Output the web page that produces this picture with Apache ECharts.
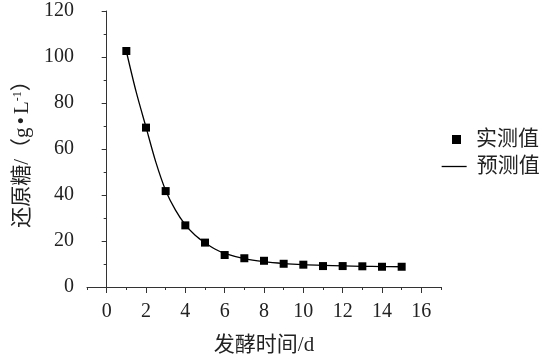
<!DOCTYPE html>
<html><head><meta charset="utf-8">
<script src="https://cdn.jsdelivr.net/npm/echarts@6/dist/echarts.min.js"></script>
<style>html,body{margin:0;padding:0;background:#fff}#c{width:542px;height:361px}</style>
</head><body><div id="c"></div>
<script>
const days = [1,1.5,2,2.5,3,3.5,4,4.5,5,5.5,6,7,8,9,10,11,12,13,14,15];
const predicted = [102.5,84.8,69.5,54.3,42.0,33.4,27.0,22.5,19.2,16.5,14.6,12.3,11.0,10.2,9.7,9.4,9.2,9.0,8.9,8.8];
const measuredDays = [1,2,3,4,5,6,7,8,9,10,11,12,13,14,15];
const measured = [102.6,69.3,41.7,26.8,19.3,13.9,12.5,11.4,10.1,9.7,9.1,9.1,9.0,8.8,8.8];
const xMajorTicks = [0,2,4,6,8,10,12,14,16];
const yTicks = [0,20,40,60,80,100,120];
const names = {measured:'实测值', predicted:'预测值', x:'发酵时间/d'};

const FONT = "'Times New Roman', 'Liberation Serif', 'Noto Sans CJK SC', serif";
const AX = '#333';
const chart = echarts.init(document.getElementById('c'));
chart.setOption({
  animation:false,
  backgroundColor:'#fff',
  grid:{left:87,right:101,top:11,bottom:74},
  xAxis:[{
    type:'value',min:-1,max:17,interval:1,
    axisLine:{lineStyle:{color:AX,width:1}},
    axisTick:{show:true,customValues:xMajorTicks,length:6,lineStyle:{color:AX}},
    axisLabel:{customValues:xMajorTicks,color:'#222',fontFamily:FONT,fontSize:20,margin:15},
    splitLine:{show:false},
    name:names.x,nameLocation:'middle',nameGap:48,
    nameTextStyle:{fontFamily:FONT,fontSize:21,color:'#222'}
  },{
    type:'value',min:-1,max:17,interval:1,position:'bottom',
    axisLine:{show:false},
    axisTick:{show:true,length:3,lineStyle:{color:AX}},
    axisLabel:{show:false},splitLine:{show:false}
  }],
  yAxis:{
    type:'value',min:0,max:120,interval:20,
    axisLine:{show:true,lineStyle:{color:AX,width:1}},
    axisTick:{show:true,length:5,lineStyle:{color:AX}},
    minorTick:{show:true,splitNumber:2,length:3,lineStyle:{color:AX}},
    axisLabel:{color:'#222',fontFamily:FONT,fontSize:20,margin:13,
      formatter:v=>yTicks.includes(v)?String(v):''},
    splitLine:{show:false},
    name:'还原糖/（g{dot|•}L{sup|-1}）',nameLocation:'middle',nameGap:54,
    nameTextStyle:{fontFamily:FONT,fontSize:21,color:'#222',
      rich:{sup:{fontFamily:FONT,fontSize:12,verticalAlign:'top',padding:[0,0,8,0],color:'#222'},
            dot:{fontFamily:FONT,fontSize:21,color:'#222',padding:[0,3,0,3]}}}
  },
  legend:[{
    data:[names.measured],left:452,top:129,padding:0,itemWidth:9,itemHeight:9,
    itemStyle:{color:'#000',opacity:1},
    textStyle:{fontFamily:FONT,fontSize:21,color:'#222',padding:[0,0,0,10]}
  },{
    data:[names.predicted],left:441,top:156,padding:0,itemWidth:25,itemHeight:12,
    itemStyle:{opacity:0},lineStyle:{color:'#000',width:1.3},
    textStyle:{fontFamily:FONT,fontSize:21,color:'#222',padding:[0,0,0,5]}
  }],
  series:[{
    name:names.predicted,type:'line',smooth:0.3,symbol:'none',
    data:days.map((d,i)=>[d,predicted[i]]),
    lineStyle:{color:'#000',width:1.3},itemStyle:{color:'#000'},z:2
  },{
    name:names.measured,type:'scatter',symbol:'rect',symbolSize:8,
    data:measuredDays.map((d,i)=>[d,measured[i]]),
    itemStyle:{color:'#000',opacity:1},z:3
  }]
});
</script></body></html>
